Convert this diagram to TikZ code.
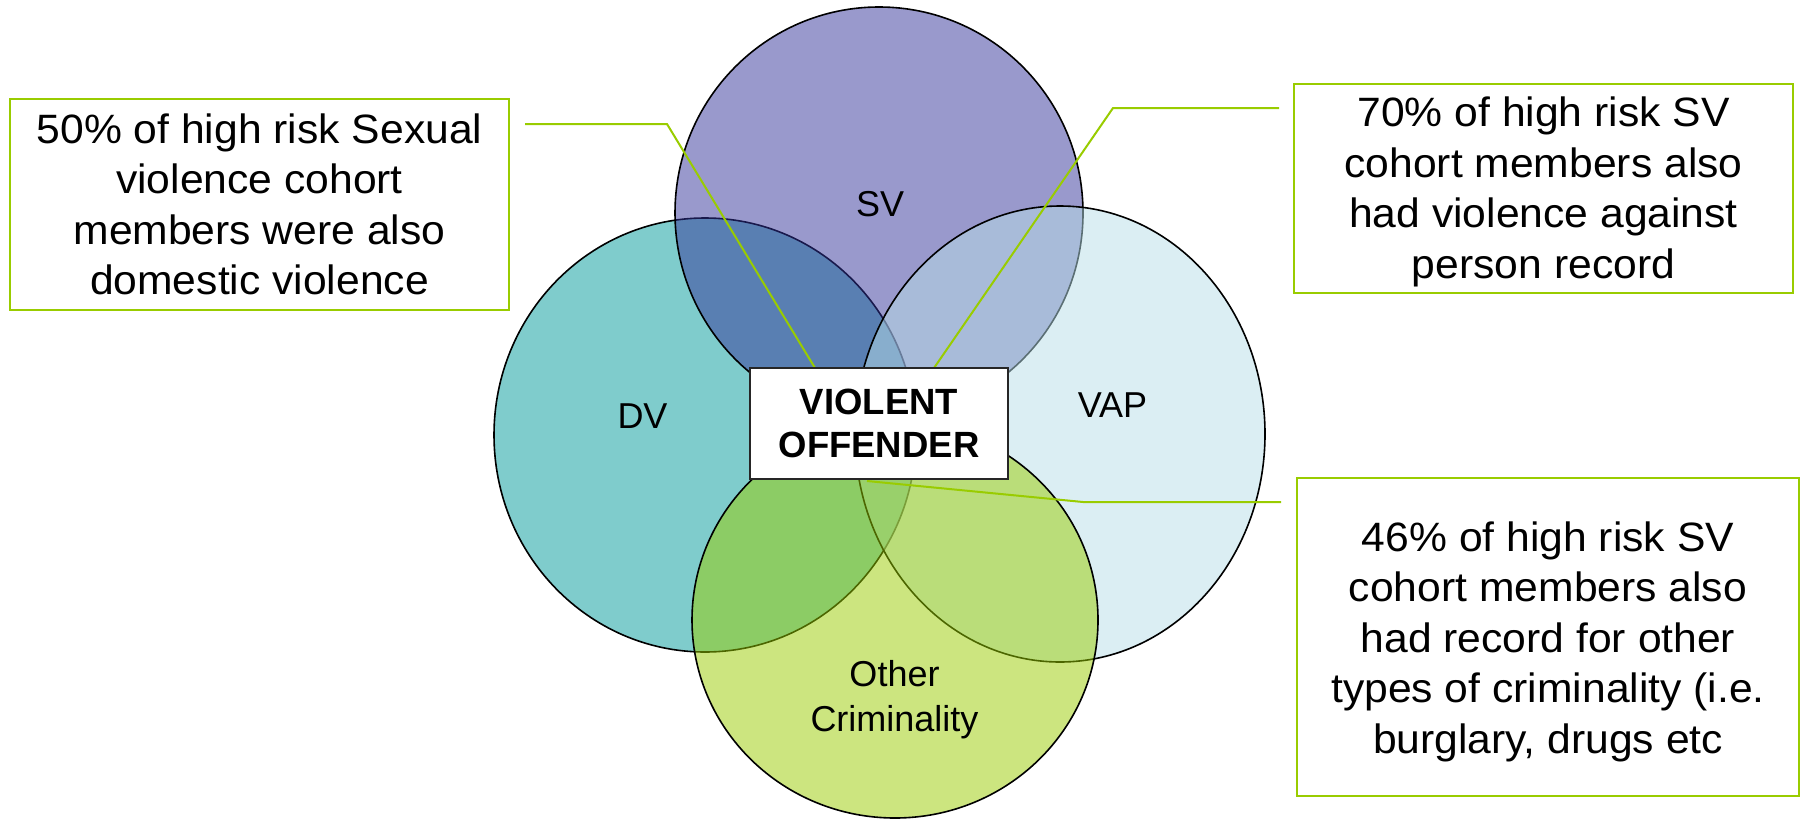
\documentclass[tikz,border=0pt]{standalone}
\usepackage{fontspec}
\setmainfont{Liberation Sans}
\newfontfamily\boxfont[FakeStretch=1.04]{Liberation Sans}
\usetikzlibrary{calc}
\definecolor{dvc}{HTML}{009999}
\definecolor{svc}{HTML}{333399}
\definecolor{vapc}{HTML}{B7DEE8}
\definecolor{occ}{HTML}{99CC00}
\definecolor{grn}{HTML}{99CC00}
\begin{document}
\begin{tikzpicture}[x=1pt,y=-1pt,
  venn/.style={draw=black, line width=1.6pt, fill opacity=0.5},
  infobox/.style={draw=grn, line width=2.5pt, fill=white, inner sep=0pt, outer sep=0pt},
  infotext/.style={font=\boxfont\fontsize{41}{50.5}\selectfont, align=center, inner sep=0pt},
  lbl/.style={font=\fontsize{36}{45}\selectfont, align=center, inner sep=0pt},
  centerbox/.style={draw=black!85, line width=2pt, fill=white, inner sep=0pt, outer sep=0pt,
    minimum width=258pt, minimum height=111pt},
  centertext/.style={font=\bfseries\fontsize{36.5}{43.3}\selectfont, align=center, inner sep=0pt},
  conn/.style={draw=grn, line width=2pt},
  ]
\useasboundingbox (0,0) rectangle (1803,819);
% Venn ellipses
\draw[venn, fill=dvc] (705,435) ellipse [x radius=211pt, y radius=217pt];
\draw[venn, fill=svc] (879,213) ellipse [x radius=204pt, y radius=206pt];
\draw[venn, fill=vapc] (1060,434) ellipse [x radius=205pt, y radius=228pt];
\draw[venn, fill=occ] (895,620) ellipse [x radius=203pt, y radius=198pt];
% labels
\node[lbl] (sv) at (880,204) {SV};
\node[lbl] (dv) at (642.5,416) {DV};
\node[lbl] (vap) at (1112.5,405) {VAP};
\node[lbl] (oc) at (894.5,700) {Other\\Criminality};
% info boxes
\node[infobox, minimum width=499pt, minimum height=211pt] (b1) at (259.5,204.5) {};
\node[infobox, minimum width=499pt, minimum height=209pt] (b2) at (1543.5,188.5) {};
\node[infobox, minimum width=502pt, minimum height=318pt] (b3) at (1548,637) {};
\node[infotext] (t1) at (259.5,204.5) {50\% of high risk Sexual\\violence cohort\\members were also\\domestic violence};
\node[infotext] (t2) at (1543.5,192) {70\% of high risk SV\\cohort members also\\had violence against\\person record};
\node[infotext] (t3) at (1548,641.5) {46\% of high risk SV\\cohort members also\\had record for other\\types of criminality (i.e.\\burglary, drugs etc};
% central box position (drawn after connectors)
\path (879,423.5) node[centerbox] (vo) {};
% connectors
\coordinate (c1a) at ($(b1.north east)+(16,25)$);
\coordinate (c1b) at (667,124);
\coordinate (c2a) at ($(b2.north west)+(-15,24)$);
\coordinate (c2b) at (1113,108);
\coordinate (c3a) at ($(b3.north west)+(-16,24)$);
\coordinate (c3b) at (1083,502);
\draw[conn] (c1a) -- (c1b) -- ($(vo.north west)+(65,0)$);
\draw[conn] (c2a) -- (c2b) -- ($(vo.north west)+(184,0)$);
\draw[conn] (c3a) -- (c3b) -- ($(vo.south west)+(117,2)$);
% central box
\node[centerbox] (vo2) at (vo.center) {};
\node[centertext] (vot) at (vo.center) {VIOLENT\\OFFENDER};
\end{tikzpicture}
\end{document}
